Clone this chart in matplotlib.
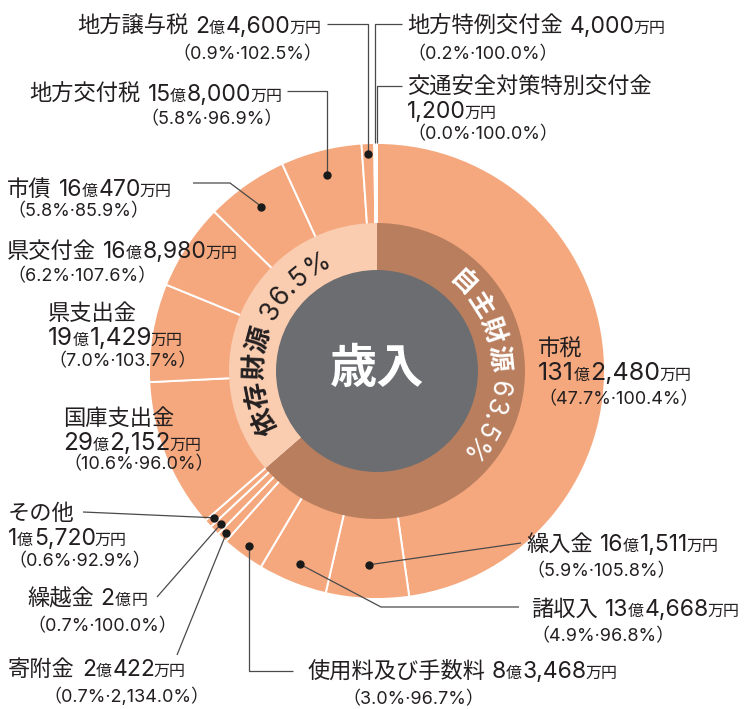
import numpy as np
import matplotlib
matplotlib.use('Agg')
import matplotlib.pyplot as plt

plt.rcParams['font.family'] = ['Noto Sans CJK JP', 'DejaVu Sans']

# 歳入の内訳 (金額は万円)
names = ['市税', '繰入金', '諸収入', '使用料及び手数料', '寄附金', '繰越金', 'その他',
         '国庫支出金', '県支出金', '県交付金', '市債', '地方交付税', '地方譲与税',
         '地方特例交付金', '交通安全対策特別交付金']
amounts = [1312480, 161511, 134668, 83468, 20422, 20000, 15720,
           292152, 191429, 168980, 160470, 158000, 24600, 4000, 1200]
share = [47.7, 5.9, 4.9, 3.0, 0.7, 0.7, 0.6, 10.6, 7.0, 6.2, 5.8, 5.8, 0.9, 0.2, 0.0]
ratio = [100.4, 105.8, 96.8, 96.7, 2134.0, 100.0, 92.9, 96.0, 103.7, 107.6, 85.9, 96.9,
         102.5, 100.0, 100.0]
n_self = 7  # 自主財源 = 最初の7項目
groups = ['自主財源', '依存財源']
group_pct = [63.5, 36.5]
center_label = '歳入'

W, H = 754, 709
cx, cy = 377, H - 371
R_OUT, R_MID, R_IN = 228, 147, 101

OUTER = '#f5a87e'
DARK = '#b97e5e'
LIGHT = '#facdb1'
GREY = '#6c6d71'
TXT = '#231f20'
LINE = '#4a4a4a'

MAIN, NUM, UNIT, SUB = 16, 16.5, 11.5, 13
CJK = ['Noto Sans CJK JP', 'DejaVu Sans']
NUMFAM = ['Inter', 'Noto Sans CJK JP']

fig = plt.figure(figsize=(W / 100, H / 100), dpi=100)
ax = fig.add_axes([0, 0, 1, 1])

ax.pie(amounts, radius=R_OUT, center=(cx, cy), startangle=90, counterclock=False,
       colors=[OUTER] * len(amounts),
       wedgeprops=dict(width=R_OUT - R_MID + 2, edgecolor='white', linewidth=1.4))
ax.pie([sum(amounts[:n_self]), sum(amounts[n_self:])], radius=R_MID + 1, center=(cx, cy),
       startangle=90, counterclock=False, colors=[DARK, LIGHT],
       wedgeprops=dict(width=R_MID + 2 - R_IN, linewidth=0))
ax.add_patch(plt.Circle((cx, cy), R_IN, color=GREY, lw=0, zorder=3))

ax.set_xlim(0, W)
ax.set_ylim(0, H)
ax.set_aspect('equal')
ax.axis('off')

renderer = fig.canvas.get_renderer()

# 各項目の中央の角度
frac = np.array(amounts) / sum(amounts)
mid = np.cumsum(frac) - frac / 2
mid_ang = 90 - 360 * mid


def rich(x, yc, parts, ha='left'):
    # parts: (文字, サイズ, フォント) か 隙間(px)
    items = []
    for p in parts:
        if isinstance(p, (int, float)):
            items.append((None, p))
            continue
        s, sz, fam = p
        t = ax.text(0, 0, s, fontsize=sz, family=fam, color=TXT, va='baseline', zorder=6)
        items.append((t, t.get_window_extent(renderer).width + 1.0))
    total = sum(w for _, w in items)
    x0 = x - total if ha == 'right' else x
    base = H - yc - 8
    for t, w in items:
        if t is not None:
            t.set_position((x0, base))
        x0 += w


def amount_parts(a, num=NUM):
    oku, man = divmod(a, 10000)
    p = []
    if oku:
        p += [(str(oku), num, NUMFAM), -1.5, ('億', UNIT, CJK)]
    if man:
        p += [(f'{man:,}', num, NUMFAM), -2.5, ('万円', UNIT, CJK)]
    else:
        p += [('円', UNIT, CJK)]
    return p


def sub_line(x, yc, i, ha='left'):
    s = f'（{share[i]:.1f}%·{ratio[i]:,.1f}%）'
    ax.text(x, H - yc, s, fontsize=SUB, family=NUMFAM, color=TXT, ha=ha,
            va='center_baseline', zorder=6)


# ラベル配置 (画面座標)
layout = {
    0: dict(x=538, ys=[348, 372, 398], split=True, num=18),
    1: dict(x=526, ys=[543, 570], leader=[(521, 543)], rdot=194),
    2: dict(x=531, ys=[608, 635], leader=[(381, 607), (519, 607)], rdot=208),
    3: dict(x=307, ys=[670, 698], px=342, leader=[(None, 671), (293, 671)], rdot=217),
    4: dict(x=8, ys=[668, 695], px=43, leader=[(177, 655)], rdot=221),
    5: dict(x=27, ys=[597, 625], leader=[(157, 597)], rdot=219),
    6: dict(x=8, ys=[512, 537, 560], split=True, leader=[(83, 512)], rdot=219),
    7: dict(x=63, ys=[417, 442, 463], split=True, num=17.5),
    8: dict(x=48, ys=[312, 337, 360], split=True, num=17.5),
    9: dict(x=7, ys=[250, 275]),
    10: dict(x=7, ys=[188, 210], leader=[(230, 183), (193, 183)], rdot=201),
    11: dict(x=283, ys=[93, 118], ha='right', leader=[(None, 91), (287, 91)], rdot=202),
    12: dict(x=322, ys=[25, 53], ha='right', leader=[(None, 24), (327, 24)], rdot=217),
    13: dict(x=407, ys=[25, 53], leader=[(None, 24), (402, 24)], rdot=R_OUT, nodot=True),
    14: dict(x=407, ys=[86, 110, 133], split=True, leader=[(None, 86), (402, 86)],
             rdot=R_OUT, nodot=True),
}

for i, name in enumerate(names):
    L = layout[i]
    ha = L.get('ha', 'left')
    if L.get('split'):
        rich(L['x'], L['ys'][0], [(name, MAIN, CJK)], ha)
        rich(L['x'], L['ys'][1], amount_parts(amounts[i], L.get('num', NUM)), ha)
        sub_line(L['x'], L['ys'][2], i, ha)
    else:
        rich(L['x'], L['ys'][0], [(name, MAIN, CJK), 6] + amount_parts(amounts[i]), ha)
        sub_line(L.get('px', L['x']), L['ys'][1], i, ha)
    if 'leader' in L:
        a = np.radians(mid_ang[i])
        dx, dy = cx + L['rdot'] * np.cos(a), cy + L['rdot'] * np.sin(a)
        xs, ys = [dx], [dy]
        for px, py in L['leader']:
            xs.append(dx if px is None else px)
            ys.append(H - py)
        ax.plot(xs, ys, color=LINE, lw=0.9, zorder=5, solid_capstyle='butt')
        if not L.get('nodot'):
            ax.plot(dx, dy, 'o', color='#1a1a1a', ms=5, zorder=6)


def arc_text(s, r, center_deg, size, color, track=1.5):
    chars = []
    for ch in s:
        if ch == ' ':
            chars.append((ch, size * 100 / 72 * 0.3, None))
            continue
        cjk = ord(ch) > 0x2E80
        kw = dict(fontsize=size, family=CJK if cjk else NUMFAM,
                  weight='bold' if cjk else 'normal')
        t = ax.text(0, 0, ch, **kw)
        chars.append((ch, t.get_window_extent(renderer).width + track, kw))
        t.remove()
    total = sum(w for _, w, _ in chars)
    start = center_deg + np.degrees(total / 2 / r)
    pos = 0
    for ch, w, kw in chars:
        ang = start - np.degrees((pos + w / 2) / r)
        pos += w
        if kw is None:
            continue
        a = np.radians(ang)
        ax.text(cx + r * np.cos(a), cy + r * np.sin(a), ch, color=color,
                rotation=ang - 90, rotation_mode='anchor',
                ha='center', va='center', zorder=6, **kw)


arc_text(f'{groups[0]} {group_pct[0]}%', 122, 3, 19, 'white')
arc_text(f'{groups[1]} {group_pct[1]}%', 122, 161.7, 19, TXT)

ax.text(cx, cy + 2, center_label, fontsize=34, weight='bold', color='white',
        ha='center', va='center', zorder=6)

fig.savefig('out.png', dpi=100)
